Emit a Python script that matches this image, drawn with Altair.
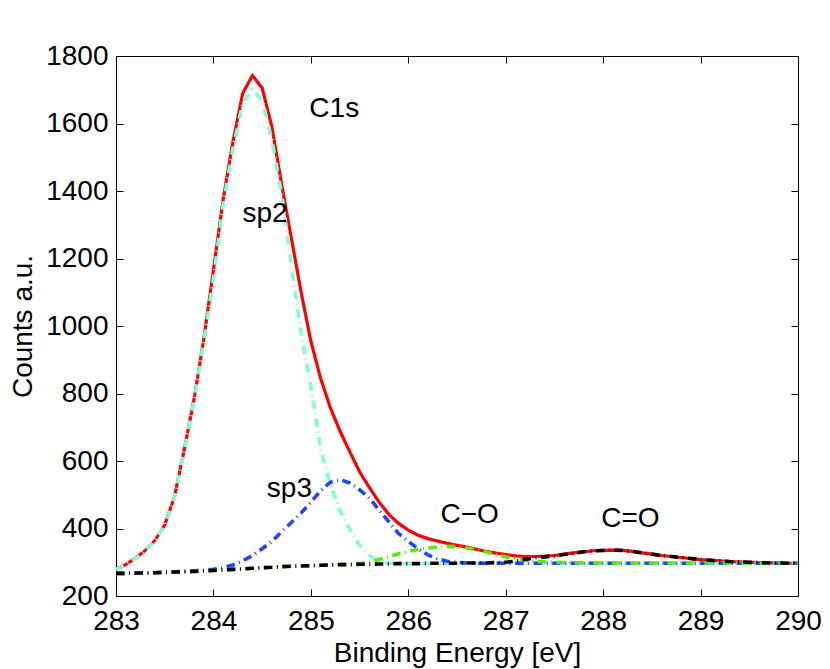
import altair as alt
import pandas as pd

# Binding energy grid (eV)
energy = [283.0, 283.1, 283.2, 283.3, 283.4, 283.5, 283.6, 283.7, 283.8, 283.9,
          284.0, 284.1, 284.2, 284.3, 284.4, 284.5, 284.6, 284.7, 284.8, 284.9,
          285.0, 285.1, 285.2, 285.3, 285.4, 285.5, 285.6, 285.7, 285.8, 285.9,
          286.0, 286.1, 286.2, 286.3, 286.4, 286.5, 286.6, 286.7, 286.8, 286.9,
          287.0, 287.1, 287.2, 287.3, 287.4, 287.5, 287.6, 287.7, 287.8, 287.9,
          288.0, 288.1, 288.2, 288.3, 288.4, 288.5, 288.6, 288.7, 288.8, 288.9,
          289.0, 289.1, 289.2, 289.3, 289.4, 289.5, 289.6, 289.7, 289.8, 289.9,
          290.0]

# Total envelope (red)
total = [280, 293, 312, 335, 365, 410, 494, 633, 781, 959,
         1165, 1375, 1545, 1689, 1742, 1705, 1590, 1420, 1260, 1100,
         955, 845, 758, 688, 627, 568, 522, 478, 442, 415,
         395, 380, 370, 363, 356, 350, 345, 338, 332, 327,
         323, 319, 317, 317, 318, 320, 324, 328, 331, 334,
         335, 336, 335, 332, 328, 324, 320, 317, 314, 311,
         308, 306, 304, 302, 301, 300, 299, 298, 298, 297,
         297]

# sp2 component + background (aquamarine)
sp2 = [279, 292, 311, 334, 364, 408, 492, 630, 776, 952,
       1140, 1360, 1525, 1660, 1700, 1670, 1551, 1390, 1180, 980,
       820, 636, 530, 452, 398, 350, 321, 302, 297, 296,
       296, 296, 297, 297, 297, 297, 297, 298, 298, 298,
       298, 298, 298, 298, 298, 298, 298, 298, 298, 298,
       298, 298, 298, 298, 298, 298, 298, 298, 298, 298,
       298, 298, 298, 298, 297, 297, 297, 297, 297, 297,
       297]

# sp3 component + background (blue)
sp3 = [267, 267, 268, 268, 269, 271, 272, 273, 275, 276,
       279, 284, 292, 304, 320, 340, 362, 390, 418, 446,
       478, 512, 537, 545, 535, 515, 490, 455, 420, 385,
       362, 340, 322, 310, 303, 300, 298, 297, 297, 297,
       297, 297, 297, 297, 297, 297, 297, 297, 297, 297,
       297, 297, 297, 297, 297, 297, 297, 297, 297, 297,
       297, 297, 297, 297, 297, 297, 297, 297, 297, 297,
       297]

# C-O component + background (green)
c_o = [267, 267, 268, 268, 269, 270, 271, 272, 273, 274,
       276, 277, 279, 280, 282, 284, 285, 287, 288, 289,
       290, 291, 292, 293, 294, 296, 300, 308, 316, 325,
       332, 338, 342, 345, 347, 346, 342, 337, 330, 322,
       316, 311, 306, 303, 301, 300, 299, 299, 298, 298,
       298, 298, 298, 298, 298, 298, 298, 298, 298, 298,
       298, 298, 298, 298, 297, 297, 297, 297, 297, 297,
       297]

# C=O component + background (black)
c_eq_o = [267, 267, 268, 268, 269, 270, 271, 272, 273, 274,
          276, 277, 279, 280, 282, 284, 285, 287, 288, 289,
          290, 291, 292, 293, 293, 294, 294, 295, 295, 296,
          296, 296, 297, 297, 297, 297, 298, 298, 298, 299,
          300, 303, 308, 313, 316, 319, 323, 327, 331, 334,
          335, 336, 335, 332, 328, 324, 320, 317, 314, 311,
          308, 306, 304, 302, 301, 300, 299, 298, 298, 297,
          297]

# Annotations
label_text = ["C1s", "sp2", "sp3", "C\u2212O", "C=O"]
label_x = [285.24, 284.53, 284.78, 286.63, 288.28]
label_y = [1618, 1307, 494, 415, 404]

x_ticks = [283, 284, 285, 286, 287, 288, 289, 290]
y_ticks = [200, 400, 600, 800, 1000, 1200, 1400, 1600, 1800]

FONT = "Liberation Sans"
FS = 28

xscale = alt.Scale(domain=[283, 290], nice=False, zero=False)
yscale = alt.Scale(domain=[200, 1800], nice=False, zero=False)

x_main_axis = alt.Axis(orient="bottom", values=x_ticks, format="d", offset=-7,
                       tickSize=7, tickColor="black", domain=False, grid=False,
                       labelFont=FONT, labelFontSize=FS, labelColor="black",
                       labelPadding=11, labelFlush=False, labelOverlap=False,
                       title="Binding Energy [eV]", titleFont=FONT, titleFontSize=FS,
                       titleFontWeight="normal", titleColor="black",
                       titleX=341, titleY=72, titleBaseline="alphabetic",
                       titleAlign="center")
y_main_axis = alt.Axis(orient="left", values=y_ticks, format="d", offset=-7,
                       tickSize=7, tickColor="black", domain=False, grid=False,
                       labelFont=FONT, labelFontSize=FS, labelColor="black",
                       labelPadding=8, labelFlush=False, labelOverlap=False,
                       title="Counts a.u.", titleFont=FONT, titleFontSize=FS,
                       titleFontWeight="normal", titleColor="black",
                       titleX=-92, titleY=270, titleAngle=270,
                       titleBaseline="alphabetic", titleAlign="center")
x_top_axis = alt.Axis(orient="top", values=x_ticks, offset=-7, tickSize=7,
                      tickColor="black", domain=False, grid=False, labels=False,
                      title=None)
y_right_axis = alt.Axis(orient="right", values=y_ticks, offset=-7, tickSize=7,
                        tickColor="black", domain=False, grid=False, labels=False,
                        title=None)


def series_df(vals):
    return pd.DataFrame({"E": energy, "v": vals})


DASHDOT = [8.5, 4.5, 1, 4.5]

red = alt.Chart(series_df(total)).mark_line(
    color="#ff0000", strokeWidth=3.2).encode(
    x=alt.X("E:Q", scale=xscale, axis=x_main_axis),
    y=alt.Y("v:Q", scale=yscale, axis=y_main_axis))

cyan = alt.Chart(series_df(sp2)).mark_line(
    color="#7fffd4", strokeWidth=3.6, strokeDash=DASHDOT, strokeCap="butt").encode(
    x=alt.X("E:Q", scale=xscale, axis=x_top_axis),
    y=alt.Y("v:Q", scale=yscale, axis=y_right_axis))

blue = alt.Chart(series_df(sp3)).mark_line(
    color="#2244ff", strokeWidth=3.6, strokeDash=DASHDOT, strokeCap="butt").encode(
    x=alt.X("E:Q", scale=xscale, axis=None),
    y=alt.Y("v:Q", scale=yscale, axis=None))

green = alt.Chart(series_df(c_o)).mark_line(
    color="#55ee00", strokeWidth=3.6, strokeDash=DASHDOT, strokeCap="butt").encode(
    x=alt.X("E:Q", scale=xscale, axis=None),
    y=alt.Y("v:Q", scale=yscale, axis=None))

black = alt.Chart(series_df(c_eq_o)).mark_line(
    color="#000000", strokeWidth=3.6, strokeDash=DASHDOT, strokeCap="butt").encode(
    x=alt.X("E:Q", scale=xscale, axis=None),
    y=alt.Y("v:Q", scale=yscale, axis=None))

labels_df = pd.DataFrame({"E": label_x, "v": label_y, "t": label_text})
labels = alt.Chart(labels_df).mark_text(
    font=FONT, fontSize=FS, color="black", align="center", baseline="alphabetic").encode(
    x=alt.X("E:Q", scale=xscale, axis=None),
    y=alt.Y("v:Q", scale=yscale, axis=None),
    text="t:N")

chart = alt.layer(red, cyan, blue, green, black, labels).resolve_axis(
    x="independent", y="independent"
).properties(
    width=682, height=540,
    autosize="none",
    padding={"left": 108, "top": 48, "right": 24, "bottom": 75},
    background="white",
).configure_view(stroke="black", strokeWidth=1)

chart.save("out.html", embed_options={"renderer": "svg", "actions": False})
